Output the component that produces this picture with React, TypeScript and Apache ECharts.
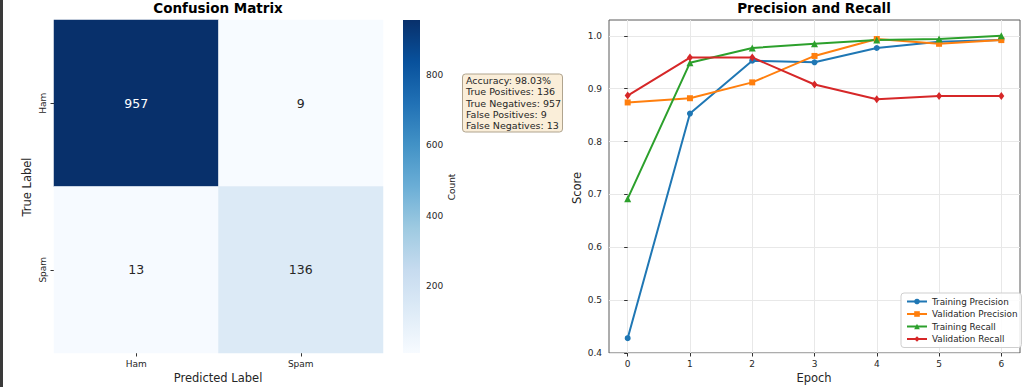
import React, { useEffect, useRef } from "react";
import * as echarts from "echarts";

const classes = ["Ham", "Spam"];
// [predictedIndex, trueIndex, count]
const matrix: [number, number, number][] = [
  [0, 0, 957],
  [1, 0, 9],
  [0, 1, 13],
  [1, 1, 136],
];
const countTicks = [200, 400, 600, 800];
const statsLines = [
  "Accuracy: 98.03%",
  "True Positives: 136",
  "True Negatives: 957",
  "False Positives: 9",
  "False Negatives: 13",
];

const epochs = [0, 1, 2, 3, 4, 5, 6];
const trainingPrecision = [0.428, 0.853, 0.953, 0.95, 0.977, 0.989, 0.992];
const validationPrecision = [0.874, 0.882, 0.912, 0.962, 0.994, 0.985, 0.992];
const trainingRecall = [0.692, 0.949, 0.977, 0.985, 0.992, 0.994, 1.0];
const validationRecall = [0.887, 0.959, 0.959, 0.908, 0.88, 0.886, 0.886];
const scoreTicks = [0.4, 0.5, 0.6, 0.7, 0.8, 0.9, 1.0];

const blues = [
  "#f7fbff",
  "#deebf7",
  "#c6dbef",
  "#9ecae1",
  "#6baed6",
  "#4292c6",
  "#2171b5",
  "#08519c",
  "#08306b",
];

const FONT = "DejaVu Sans";
const TXT = "#262626";

export default function App() {
  const ref = useRef<HTMLDivElement>(null);
  useEffect(() => {
    if (!ref.current) return;
    const chart = echarts.init(ref.current, undefined, { renderer: "svg" });
    const vals = matrix.map((m) => m[2]);
    const vmin = Math.min(...vals);
    const vmax = Math.max(...vals);
    const pair = (ys: number[]) => epochs.map((e, i) => [e, ys[i]]);
    const lineSeries = (
      name: string,
      ys: number[],
      color: string,
      symbol: string,
      size: number | number[]
    ) => ({
      name,
      type: "line",
      xAxisIndex: 2,
      yAxisIndex: 2,
      data: pair(ys),
      symbol,
      symbolSize: size,
      showAllSymbol: true,
      itemStyle: { color },
      lineStyle: { color, width: 2 },
      z: 3,
    });

    chart.setOption({
      animation: false,
      backgroundColor: "#ffffff",
      textStyle: { fontFamily: FONT },
      grid: [
        { left: 54, top: 20, width: 329, height: 333 },
        { left: 403, top: 20, width: 17, height: 333 },
        {
          left: 609,
          top: 20,
          width: 411,
          height: 333,
          show: true,
          borderColor: "#5a5a5a",
          borderWidth: 1,
          backgroundColor: "transparent",
        },
      ],
      xAxis: [
        {
          gridIndex: 0,
          type: "category",
          data: classes,
          axisLine: { show: false },
          axisTick: { show: true, alignWithLabel: true, length: 3.5, lineStyle: { color: "#333" } },
          axisLabel: { fontSize: 9, color: TXT, margin: 6, fontFamily: FONT },
          splitLine: { show: false },
        },
        {
          gridIndex: 1,
          type: "value",
          min: 0,
          max: 1,
          show: false,
        },
        {
          gridIndex: 2,
          type: "value",
          min: -0.3,
          max: 6.3,
          axisLine: { show: false },
          axisTick: { show: true, length: 3.5, customValues: epochs, lineStyle: { color: "#333" } },
          axisLabel: { fontSize: 9, color: TXT, margin: 6, customValues: epochs, fontFamily: FONT },
          splitLine: { show: true, lineStyle: { color: "#e8e8e8", width: 1 } },
        },
      ],
      yAxis: [
        {
          gridIndex: 0,
          type: "category",
          data: classes,
          inverse: true,
          axisLine: { show: false },
          axisTick: { show: true, alignWithLabel: true, length: 3.5, lineStyle: { color: "#333" } },
          axisLabel: { fontSize: 9, color: TXT, rotate: 90, margin: 7, fontFamily: FONT },
          splitLine: { show: false },
        },
        {
          gridIndex: 1,
          type: "value",
          min: vmin,
          max: vmax,
          position: "right",
          axisLine: { show: false },
          axisTick: { show: true, length: 3.5, customValues: countTicks, lineStyle: { color: "#333" } },
          axisLabel: { fontSize: 9, color: TXT, margin: 6, customValues: countTicks, fontFamily: FONT },
          splitLine: { show: false },
        },
        {
          gridIndex: 2,
          type: "value",
          min: 0.4,
          max: 1.03,
          axisLine: { show: false },
          axisTick: { show: true, length: 3.5, customValues: scoreTicks, lineStyle: { color: "#333" } },
          axisLabel: {
            fontSize: 9,
            color: TXT,
            margin: 7,
            customValues: scoreTicks,
            fontFamily: FONT,
            formatter: (v: number) => v.toFixed(1),
          },
          splitLine: { show: true, lineStyle: { color: "#e8e8e8", width: 1 } },
        },
      ],
      visualMap: {
        show: false,
        type: "continuous",
        min: vmin,
        max: vmax,
        seriesIndex: 0,
        dimension: 2,
        inRange: { color: blues },
      },
      legend: {
        data: ["Training Precision", "Validation Precision", "Training Recall", "Validation Recall"],
        orient: "vertical",
        left: 901,
        top: 293,
        itemGap: 3.5,
        itemWidth: 20,
        itemHeight: 7,
        padding: [4, 4, 4, 5],
        backgroundColor: "rgba(255,255,255,0.85)",
        borderColor: "#cfcfcf",
        borderWidth: 1,
        borderRadius: 3,
        textStyle: { fontSize: 8.8, color: TXT, fontFamily: FONT },
      },
      series: [
        {
          type: "heatmap",
          xAxisIndex: 0,
          yAxisIndex: 0,
          data: matrix.map((m) => ({
            value: m,
            label: { color: m[2] > (vmin + vmax) / 2 ? "#ffffff" : TXT },
          })),
          label: { show: true, fontSize: 12.5, fontFamily: FONT, formatter: (p: any) => String(p.value[2]) },
          itemStyle: { borderWidth: 0 },
          emphasis: { disabled: true },
        },
        {
          type: "custom",
          xAxisIndex: 1,
          yAxisIndex: 1,
          data: [[0, vmin]],
          renderItem: (params: any) => {
            const cs = params.coordSys;
            return {
              type: "rect",
              shape: { x: cs.x, y: cs.y, width: cs.width, height: cs.height },
              style: {
                fill: new echarts.graphic.LinearGradient(
                  0,
                  1,
                  0,
                  0,
                  blues.map((c, i) => ({ offset: i / (blues.length - 1), color: c }))
                ),
              },
            };
          },
          silent: true,
        },
        lineSeries("Training Precision", trainingPrecision, "#1f77b4", "circle", 6),
        lineSeries("Validation Precision", validationPrecision, "#ff7f0e", "rect", 6),
        lineSeries("Training Recall", trainingRecall, "#2ca02c", "triangle", 7),
        lineSeries("Validation Recall", validationRecall, "#d62728", "diamond", [6, 8]),
      ],
      graphic: [
        { type: "rect", left: 0, top: 0, shape: { width: 3, height: 387 }, style: { fill: "#3a3a3a" } },
        {
          type: "text",
          x: 218,
          y: 8,
          style: { text: "Confusion Matrix", font: `bold 13.5px "${FONT}"`, fill: "#000", align: "center", verticalAlign: "middle" },
        },
        {
          type: "text",
          x: 814,
          y: 8,
          style: { text: "Precision and Recall", font: `bold 13.5px "${FONT}"`, fill: "#000", align: "center", verticalAlign: "middle" },
        },
        {
          type: "text",
          x: 27,
          y: 187,
          rotation: Math.PI / 2,
          style: { text: "True Label", font: `11.5px "${FONT}"`, fill: TXT, align: "center", verticalAlign: "middle" },
        },
        {
          type: "text",
          x: 218,
          y: 378,
          style: { text: "Predicted Label", font: `11.5px "${FONT}"`, fill: TXT, align: "center", verticalAlign: "middle" },
        },
        {
          type: "text",
          x: 452,
          y: 187,
          rotation: Math.PI / 2,
          style: { text: "Count", font: `9px "${FONT}"`, fill: TXT, align: "center", verticalAlign: "middle" },
        },
        {
          type: "text",
          x: 577,
          y: 188,
          rotation: Math.PI / 2,
          style: { text: "Score", font: `11.5px "${FONT}"`, fill: TXT, align: "center", verticalAlign: "middle" },
        },
        {
          type: "text",
          x: 814,
          y: 378,
          style: { text: "Epoch", font: `11.5px "${FONT}"`, fill: TXT, align: "center", verticalAlign: "middle" },
        },
        {
          type: "rect",
          x: 462.5,
          y: 74,
          shape: { width: 100, height: 58, r: 3 },
          style: { fill: "#faeed9", stroke: "#b0a48e", lineWidth: 1 },
          z: 10,
        },
        {
          type: "text",
          x: 466,
          y: 75,
          z: 11,
          style: {
            text: statsLines.join("\n"),
            font: `9.5px "${FONT}"`,
            lineHeight: 11.2,
            fill: TXT,
            align: "left",
            verticalAlign: "top",
          },
        },
      ],
    });
    return () => chart.dispose();
  }, []);
  return (
    <div
      ref={ref}
      style={{ position: "fixed", left: 0, top: 0, width: 1024, height: 387 }}
    />
  );
}
